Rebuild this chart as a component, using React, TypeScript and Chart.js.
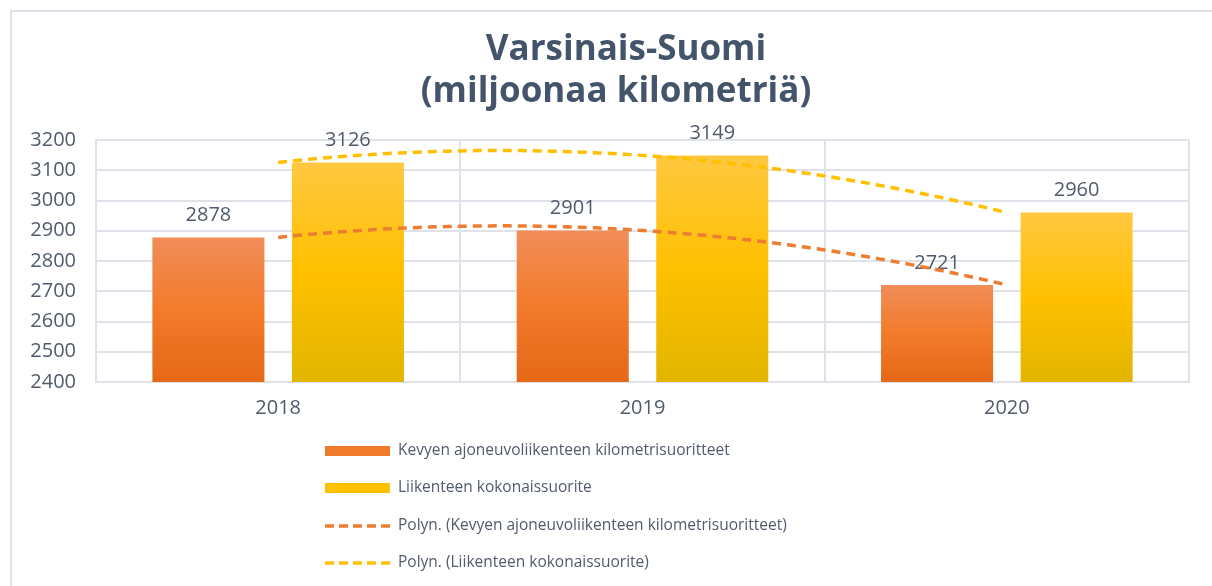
import React, { useEffect, useRef } from "react";
import { Chart, registerables } from "chart.js";

Chart.register(...registerables);

// ---- data ----
const categories = ["2018", "2019", "2020"];
const lightVehicleKm = [2878, 2901, 2721];
const totalKm = [3126, 3149, 2960];
const yMin = 2400;
const yMax = 3200;
const yStep = 100;
const titleLines = ["Varsinais-Suomi", "(miljoonaa kilometriä)"];
const seriesNames = [
  "Kevyen ajoneuvoliikenteen kilometrisuoritteet",
  "Liikenteen kokonaissuorite",
];
const trendNames = seriesNames.map((n) => `Polyn. (${n})`);

// ---- styles ----
const FONT = '"Open Sans", "DejaVu Sans", sans-serif';
const TEXT = "#515b6b";
const TITLE = "#44546a";
const GRID = "#dfe2e8";
const ORANGE = "#ed7d31";
const YELLOW = "#ffc000";
const W = 1212;
const H = 586;

function polyFit2(ys: number[]) {
  // least squares quadratic on x = 0..n-1
  const n = ys.length;
  const S = [0, 0, 0, 0, 0];
  const T = [0, 0, 0];
  for (let i = 0; i < n; i++) {
    for (let k = 0; k < 5; k++) S[k] += Math.pow(i, k);
    for (let k = 0; k < 3; k++) T[k] += ys[i] * Math.pow(i, k);
  }
  const M = [
    [S[0], S[1], S[2], T[0]],
    [S[1], S[2], S[3], T[1]],
    [S[2], S[3], S[4], T[2]],
  ];
  for (let c = 0; c < 3; c++) {
    let p = c;
    for (let r = c + 1; r < 3; r++) if (Math.abs(M[r][c]) > Math.abs(M[p][c])) p = r;
    [M[c], M[p]] = [M[p], M[c]];
    for (let r = 0; r < 3; r++) {
      if (r === c) continue;
      const f = M[r][c] / M[c][c];
      for (let k = c; k < 4; k++) M[r][k] -= f * M[c][k];
    }
  }
  const coef = [M[0][3] / M[0][0], M[1][3] / M[1][1], M[2][3] / M[2][2]];
  return (x: number) => coef[0] + coef[1] * x + coef[2] * x * x;
}

function barGradient(ctx: any, stops: [number, string][]) {
  const chart = ctx.chart;
  const ys = chart.scales?.y;
  if (!ys || ctx.type !== "data") return stops[1][1];
  const v = ctx.raw as number;
  const top = ys.getPixelForValue(v);
  const bottom = ys.getPixelForValue(yMin);
  if (!isFinite(top) || !isFinite(bottom) || top === bottom) return stops[1][1];
  const g = chart.ctx.createLinearGradient(0, top, 0, bottom);
  stops.forEach(([o, c]) => g.addColorStop(o, c));
  return g;
}

const orangeStops: [number, string][] = [
  [0, "#f18d58"],
  [0.5, "#f27b2b"],
  [1, "#e56817"],
];
const yellowStops: [number, string][] = [
  [0, "#ffc840"],
  [0.5, "#ffc000"],
  [1, "#e2b500"],
];

const framePlugin = {
  id: "frame",
  beforeDraw(chart: any) {
    const c = chart.ctx;
    c.save();
    c.fillStyle = "#ffffff";
    c.fillRect(0, 0, chart.width, chart.height);
    c.strokeStyle = "#dde2ea";
    c.lineWidth = 2;
    c.beginPath();
    c.moveTo(11, chart.height + 5);
    c.lineTo(11, 11);
    c.lineTo(chart.width + 5, 11);
    c.stroke();
    c.restore();
  },
};

const titlePlugin = {
  id: "customTitle",
  afterDraw(chart: any) {
    const c = chart.ctx;
    c.save();
    c.fillStyle = TITLE;
    c.font = `bold 35px ${FONT}`;
    c.textAlign = "center";
    c.textBaseline = "middle";
    c.fillText(titleLines[0], 626, 50);
    c.fillText(titleLines[1], 616, 92);
    c.restore();
  },
};

const labelsAndTrendPlugin = {
  id: "labelsAndTrend",
  afterDatasetsDraw(chart: any) {
    const c = chart.ctx;
    const xs = chart.scales.x;
    const ys = chart.scales.y;
    // data labels
    c.save();
    c.fillStyle = TEXT;
    c.font = `20px ${FONT}`;
    c.textAlign = "center";
    c.textBaseline = "middle";
    chart.data.datasets.forEach((ds: any, di: number) => {
      const meta = chart.getDatasetMeta(di);
      meta.data.forEach((bar: any, i: number) => {
        c.fillText(String(ds.data[i]), bar.x, bar.y - 22);
      });
    });
    c.restore();
    // polynomial trend lines
    const colors = [ORANGE, YELLOW];
    chart.data.datasets.forEach((ds: any, di: number) => {
      const f = polyFit2(ds.data);
      const n = ds.data.length;
      c.save();
      c.strokeStyle = colors[di];
      c.lineWidth = 3.5;
      c.setLineDash([9, 6]);
      c.beginPath();
      const steps = 120;
      for (let s = 0; s <= steps; s++) {
        const x = ((n - 1) * s) / steps;
        const px = xs.getPixelForValue(x);
        const py = ys.getPixelForValue(f(x));
        if (s === 0) c.moveTo(px, py);
        else c.lineTo(px, py);
      }
      c.stroke();
      c.restore();
    });
  },
};

const legendPlugin = {
  id: "customLegend",
  afterDraw(chart: any) {
    const c = chart.ctx;
    const x0 = 325;
    const x1 = 390;
    const rows = [451, 488, 526, 563];
    const items = [
      { label: seriesNames[0], kind: "bar", color: "#f07a2c" },
      { label: seriesNames[1], kind: "bar", color: "#ffc000" },
      { label: trendNames[0], kind: "line", color: ORANGE },
      { label: trendNames[1], kind: "line", color: YELLOW },
    ];
    c.save();
    items.forEach((it, i) => {
      const y = rows[i];
      if (it.kind === "bar") {
        c.fillStyle = it.color;
        c.fillRect(x0, y - 5, x1 - x0, 10);
      } else {
        c.strokeStyle = it.color;
        c.lineWidth = 3.5;
        c.setLineDash([9, 5]);
        c.beginPath();
        c.moveTo(x0, y);
        c.lineTo(x1, y);
        c.stroke();
        c.setLineDash([]);
      }
      c.fillStyle = TEXT;
      c.font = `15.5px ${FONT}`;
      c.textAlign = "left";
      c.textBaseline = "middle";
      c.fillText(it.label, 398, y);
    });
    c.restore();
  },
};

export default function App() {
  const ref = useRef<HTMLCanvasElement | null>(null);
  useEffect(() => {
    if (!ref.current) return;
    const chart = new Chart(ref.current, {
      type: "bar",
      data: {
        labels: categories,
        datasets: [
          {
            label: seriesNames[0],
            data: lightVehicleKm,
            backgroundColor: (ctx: any) => barGradient(ctx, orangeStops),
            categoryPercentage: 0.766,
            barPercentage: 0.803,
          },
          {
            label: seriesNames[1],
            data: totalKm,
            backgroundColor: (ctx: any) => barGradient(ctx, yellowStops),
            categoryPercentage: 0.766,
            barPercentage: 0.803,
          },
        ],
      },
      options: {
        responsive: false,
        animation: false,
        devicePixelRatio: 1,
        layout: { padding: { left: 20, right: 23, top: 140, bottom: 164 } },
        plugins: {
          legend: { display: false },
          title: { display: false },
          tooltip: { enabled: false },
        },
        scales: {
          x: {
            offset: true,
            grid: { offset: true, color: GRID, lineWidth: 2, drawTicks: false },
            border: { color: GRID, width: 2 },
            ticks: { color: TEXT, font: { family: FONT, size: 20 }, padding: 14 },
            afterFit(scale: any) {
              scale.height = 40;
            },
          },
          y: {
            min: yMin,
            max: yMax,
            grid: { color: GRID, lineWidth: 2, drawTicks: false },
            border: { color: GRID, width: 2 },
            ticks: {
              stepSize: yStep,
              color: TEXT,
              font: { family: FONT, size: 20 },
              padding: 20,
              callback: (v: any) => String(v),
            },
            afterFit(scale: any) {
              scale.width = 76;
            },
          },
        },
      },
      plugins: [framePlugin, labelsAndTrendPlugin, titlePlugin, legendPlugin],
    });
    return () => chart.destroy();
  }, []);
  return (
    <div style={{ position: "fixed", left: 0, top: 0, width: W, height: H, background: "#fff" }}>
      <canvas ref={ref} width={W} height={H} style={{ width: W, height: H, display: "block" }} />
    </div>
  );
}
